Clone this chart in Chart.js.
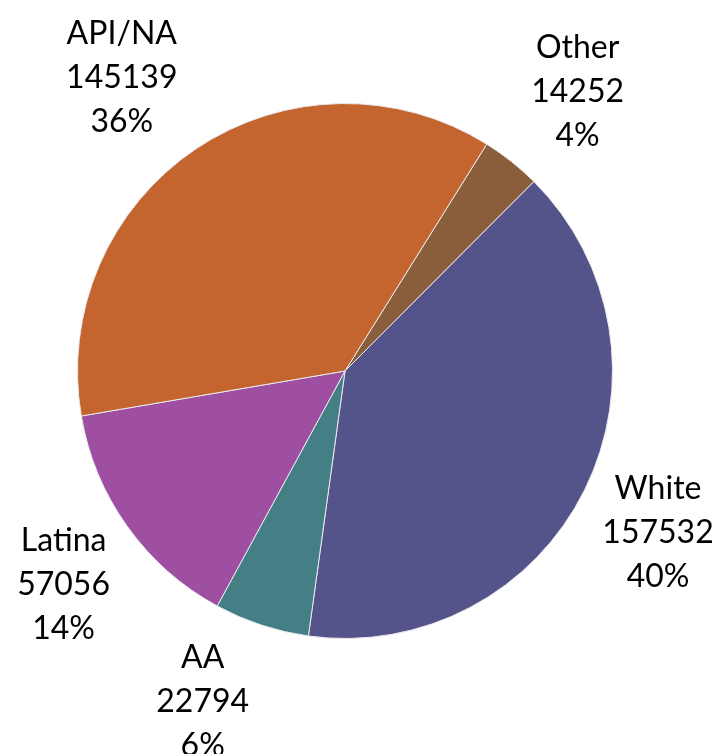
<!DOCTYPE html>
<html>
<head>
<meta charset="utf-8">
<script src="https://cdn.jsdelivr.net/npm/chart.js@4.4.1/dist/chart.umd.min.js"></script>
<style>
  html, body { margin: 0; padding: 0; background: #fff; }
  #wrap { width: 715px; height: 754px; }
</style>
</head>
<body>
<div id="wrap"><canvas id="pieChart"></canvas></div>
<script>
// Chart data
const categories = ['Other', 'White', 'AA', 'Latina', 'API/NA'];
const counts = [14252, 157532, 22794, 57056, 145139];
const pctLabels = ['4%', '40%', '6%', '14%', '36%'];
const sliceColors = ['#8A5D3B', '#55548A', '#437F85', '#9F4FA2', '#C4652F'];

// Small hand tweaks so labels sit where the original placed them
const labelNudge = [[9, 2], [-9, 2], [-30, -11], [11, 5], [-23, 5]];

// Draw the three-line labels outside each slice
const outsideLabels = {
    id: 'outsideLabels',
    afterDatasetsDraw(chart) {
        const c = chart.ctx;
        const arcs = chart.getDatasetMeta(0).data;
        c.save();
        c.fillStyle = '#000';
        c.font = '32px Lato, "Open Sans", sans-serif';
        c.textAlign = 'center';
        c.textBaseline = 'middle';
        arcs.forEach((arc, i) => {
            const mid = (arc.startAngle + arc.endAngle) / 2;
            const r = arc.outerRadius + 92;
            const x = arc.x + Math.cos(mid) * r + labelNudge[i][0];
            const y = arc.y + Math.sin(mid) * r + labelNudge[i][1];
            const lines = [categories[i], String(counts[i]), pctLabels[i]];
            lines.forEach((t, k) => c.fillText(t, x, y + (k - 1) * 44));
        });
        c.restore();
    }
};

new Chart(document.getElementById('pieChart'), {
    type: 'pie',
    data: {
        labels: categories,
        datasets: [{
            data: counts,
            backgroundColor: sliceColors,
            borderColor: '#e8e8ee',
            borderWidth: 1
        }]
    },
    options: {
        responsive: true,
        maintainAspectRatio: false,
        animation: false,
        rotation: 32,
        layout: { padding: { left: 77, right: 102, top: 103, bottom: 115 } },
        plugins: { legend: { display: false }, tooltip: { enabled: false } }
    },
    plugins: [outsideLabels]
});
</script>
</body>
</html>
